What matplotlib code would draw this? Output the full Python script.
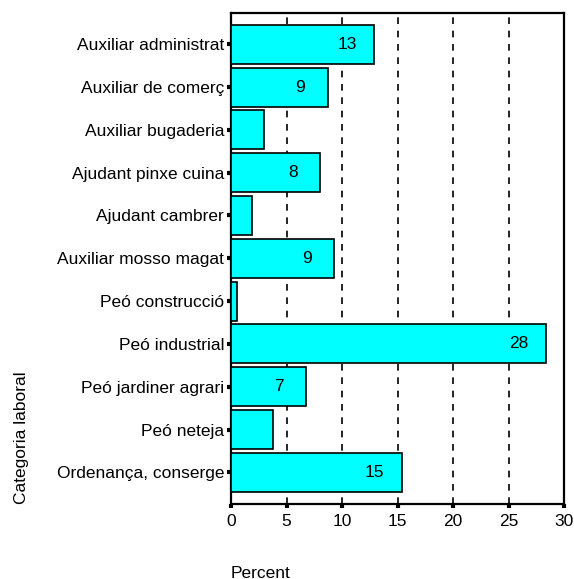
import matplotlib
matplotlib.use('Agg')
import matplotlib.pyplot as plt

plt.rcParams['font.family'] = ['Liberation Sans', 'DejaVu Sans']

categories = [
    'Auxiliar administrat', 'Auxiliar de comerç', 'Auxiliar bugaderia',
    'Ajudant pinxe cuina', 'Ajudant cambrer', 'Auxiliar mosso magat',
    'Peó construcció', 'Peó industrial', 'Peó jardiner agrari',
    'Peó neteja', 'Ordenança, conserge',
]
percent = [12.9, 8.7, 3.0, 8.0, 1.9, 9.3, 0.55, 28.4, 6.8, 3.75, 15.4]
bar_labels = ['13', '9', '', '8', '', '9', '', '28', '7', '', '15']
xticks = [0, 5, 10, 15, 20, 25, 30]

fig = plt.figure(figsize=(5.74, 5.79), dpi=100)
ax = fig.add_axes([231 / 574, 1 - 504 / 579, 333 / 574, 491 / 579])

ypos = list(range(len(categories)))
ax.barh(ypos, percent, height=0.91, color='#00ffff', edgecolor='black',
        linewidth=1.2, zorder=3)

# value label sits a fixed distance left of the bar end
for y, v, lab in zip(ypos, percent, bar_labels):
    if lab:
        ax.text(v - 2.45, y, lab, ha='center', va='center', fontsize=12.5, zorder=4)

for x in xticks[1:-1]:
    ax.axvline(x, color='black', linestyle=(0, (4, 4)), linewidth=1.2, zorder=1)

ax.set_xlim(0, 30)
ax.set_ylim(len(categories) - 1 + 0.74, -0.73)
ax.set_xticks(xticks)
ax.set_yticks(ypos)
ax.set_yticklabels(categories)
ax.tick_params(axis='both', direction='out', length=3, width=3, labelsize=12.5, pad=2)
ax.tick_params(axis='x', pad=4.5)

for s in ax.spines.values():
    s.set_linewidth(1.6)

fig.text(261 / 574, 1 - 573 / 579, 'Percent', ha='center', va='center', fontsize=12.5)
fig.text(22 / 574, 1 - 438 / 579, 'Categoria laboral', ha='center', va='center',
         rotation=90, fontsize=12.5)

fig.savefig('out.png', dpi=100)
